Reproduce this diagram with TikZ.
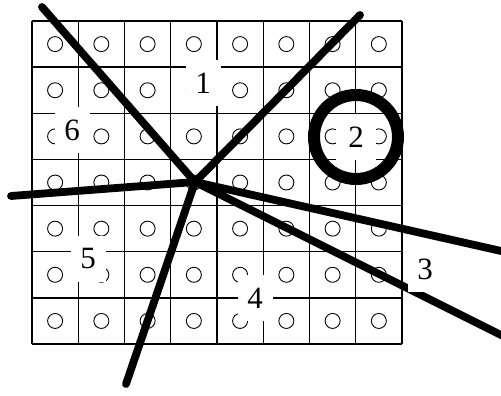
\documentclass[tikz,border=0pt]{standalone}
\usepackage{fontspec}
\setmainfont{Liberation Serif}
\begin{document}
\begin{tikzpicture}[x=1pt,y=-1pt,
  gridline/.style={line width=1.4pt},
  dot/.style={circle,draw,line width=0.9pt,minimum size=15pt,inner sep=0pt},
  ray/.style={line width=7.8pt,line cap=round},
  lbl/.style={fill=white,inner sep=0pt,minimum width=35pt,minimum height=46pt,font=\fontsize{31}{31}\selectfont},
  ring/.style={circle,draw,line width=12pt,minimum size=84pt,inner sep=0pt}]
\useasboundingbox (0,0) rectangle (501,396);
% grid
\foreach \i in {0,...,8} {
  \draw[gridline] ({32+46.25*\i},21) -- ({32+46.25*\i},344);
}
\foreach \j in {0,...,7} {
  \draw[gridline] (32,{21+46.14*\j}) -- (402,{21+46.14*\j});
}
% small circles
\foreach \i in {0,...,7} {
  \foreach \j in {0,...,6} {
    \node[dot] (d-\i-\j) at ({55.1+46.25*\i},{44.1+46.14*\j}) {};
  }
}
% rays
\coordinate (c) at (195,182);
\coordinate (tl) at (42,7);
\coordinate (tr) at (360,15);
\coordinate (lf) at (11,196);
\coordinate (bt) at (126,384);
\coordinate (r1) at (510,253);
\coordinate (r2) at (510,339.5);
\draw[ray] (c) -- (tl);
\draw[ray] (c) -- (tr);
\draw[ray] (c) -- (lf);
\draw[ray] (c) -- (bt);
\draw[ray] (c) -- (r1);
\draw[ray] (c) -- (r2);
% labels
\node[lbl] (l1) at (203,83) {1};
\node[lbl] (l6) at (72,130) {6};
\node[lbl,minimum width=40pt] (l2) at (356,137) {2};
\node[lbl] (l5) at (88,259) {5};
\node[lbl] (l4) at (255,298) {4};
\node[lbl] (l3) at (425,269) {3};
% thick ring
\node[ring] (rg) at (356,137) {};
\end{tikzpicture}
\end{document}
